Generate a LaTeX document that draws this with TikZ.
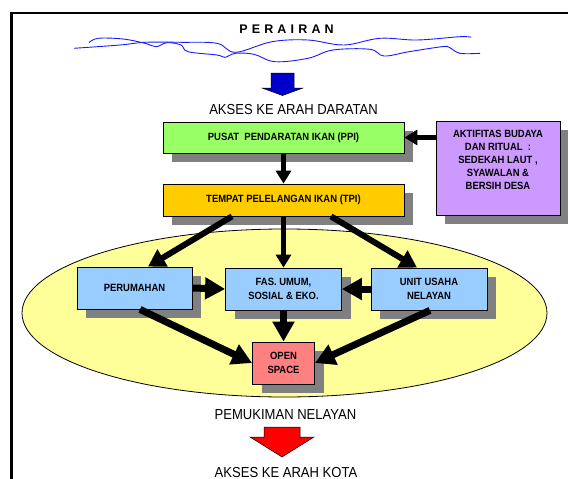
\documentclass[tikz,border=0pt]{standalone}
\usepackage{fontspec}
\setmainfont{Liberation Sans}[FakeStretch=0.9]
\newfontfamily\plainsans{Liberation Sans}
\usetikzlibrary{arrows.meta,shadows,calc,shapes.geometric}
\definecolor{ppigreen}{HTML}{99FF66}
\definecolor{budaya}{HTML}{CC99FF}
\definecolor{tpiorange}{HTML}{FFCC00}
\definecolor{lightblue}{HTML}{99CCFF}
\definecolor{openred}{HTML}{FF8080}
\definecolor{areayellow}{HTML}{FFFF99}
\definecolor{shadowgray}{HTML}{808080}
\definecolor{wave}{HTML}{1A1AFF}
\definecolor{darkblue}{HTML}{0000CC}
\begin{document}
\begin{tikzpicture}[x=1pt,y=-1pt,
  box/.style={draw=black, line width=0.8pt, rectangle, inner sep=0pt, align=center,
    font=\bfseries\fontsize{10.5}{13.5}\selectfont,
    drop shadow={shadow xshift=9pt,shadow yshift=-8.5pt,fill=shadowgray,opacity=1}},
  lbl/.style={inner sep=0pt, anchor=base, font=\fontsize{14.5}{17}\selectfont},
  thinarr/.style={line width=5pt, -{Triangle[width=15pt,length=13pt]}},
  midarr/.style={line width=6pt, -{Triangle[width=19pt,length=17pt]}},
  thickarr/.style={line width=7pt, -{Triangle[width=21pt,length=20pt]}},
  wavy/.style={draw=wave, line width=0.9pt, smooth, tension=0.6}
]
\useasboundingbox (0,0) rectangle (568,479);

% frame
\draw[line width=2.5pt] (11.5,479) -- (11.5,13) -- (568,13);

% title and waves
\node (perairan) [inner sep=0pt, anchor=base, font=\plainsans\bfseries\fontsize{12.5}{15}\selectfont] at (286.5,33) {P\,\,E\,\,R\,\,A\,\,I\,\,R\,\,A\,\,N};
\draw[wavy] plot coordinates {(74,48.3) (120,45) (145,42.3) (181,42.3) (217,43.3) (235.5,52.3) (272,41.7) (308,40) (344,45) (380,38.3) (417,40) (460,36.7) (471,37.3)};
\draw[wavy] plot coordinates {(89,42.7) (98,38.3) (123,39) (145,43.3) (156,46.7) (167,42.7) (181,45) (188,51.7) (217,55) (225,57.3) (235.5,53.3) (254,54.3) (275,61.7) (308,58.3) (333,50) (370,49.3) (384,56) (409,51.7) (442,46.7) (449,47.3) (460,53.3) (480,53.3)};

% blue block arrow
\draw[fill=darkblue, draw=black, line width=0.5pt] (271,73) -- (294,73) -- (294,88) -- (303,88) -- (282.5,95.5) -- (262,88) -- (271,88) -- cycle;
\node (darat) [lbl] at (293.5,114) {AKSES KE ARAH DARATAN};

% settlement area
\node (area) [draw=black, line width=0.8pt, fill=areayellow, ellipse, inner sep=0pt,
  minimum width=525pt, minimum height=168pt] at (284.5,313) {};

% boxes
\node (ppi) [box, fill=ppigreen, minimum width=241pt, minimum height=31pt] at (283.5,137.5) {PUSAT\ \ PENDARATAN IKAN (PPI)};
\node (budayabox) [box, fill=budaya, minimum width=124pt, minimum height=94pt] at (498,168) {};
\node (budayatxt) [inner sep=0pt, align=center, font=\bfseries\fontsize{10.5}{13}\selectfont] at (498,160) {AKTIFITAS BUDAYA\\DAN RITUAL\ \ :\\SEDEKAH LAUT ,\\SYAWALAN \&\\BERSIH DESA};
\node (tpi) [box, fill=tpiorange, minimum width=241pt, minimum height=32pt] at (283.5,200) {TEMPAT PELELANGAN IKAN (TPI)};
\node (peru) [box, fill=lightblue, minimum width=115pt, minimum height=42pt] at (134.5,288) {PERUMAHAN};
\node (fas) [box, fill=lightblue, minimum width=116pt, minimum height=42pt] at (283.5,289) {FAS. UMUM,\\SOSIAL \& EKO.};
\node (unit) [box, fill=lightblue, minimum width=116pt, minimum height=42pt] at (429,289) {UNIT USAHA\\NELAYAN};
\node (open) [box, fill=openred, minimum width=62pt, minimum height=42pt] at (283.5,363) {OPEN\\SPACE};

% connectors
\draw[thinarr] (budayabox.west |- ppi.east) -- (ppi.east);
\draw[thinarr] (ppi.south) -- (tpi.north);
\draw[midarr] ($(tpi.south)+(-51.5,0)$) -- ($(peru.north)+(13.5,0)$);
\draw[thinarr] (tpi.south) -- (fas.north);
\draw[midarr] ($(tpi.south)+(47.5,0)$) -- ($(unit.north)+(-12,0)$);
\draw[thickarr] (peru.east) -- (fas.west);
\draw[thickarr] (unit.west) -- (fas.east);
\draw[thickarr] ($(peru.south)+(5.5,0)$) -- (open.west);
\draw[thickarr] (fas.south) -- (open.north);
\draw[thickarr] ($(unit.south)+(1,0)$) -- (open.east);

% bottom labels and red block arrow
\node (pemukiman) [lbl] at (285.5,419) {PEMUKIMAN NELAYAN};
\draw[fill=red, draw=black, line width=0.5pt] (264,427) -- (300,427) -- (300,437) -- (314,437) -- (282,457) -- (250,437) -- (264,437) -- cycle;
\node (kota) [lbl] at (286,477) {AKSES KE ARAH KOTA};
\end{tikzpicture}
\end{document}
